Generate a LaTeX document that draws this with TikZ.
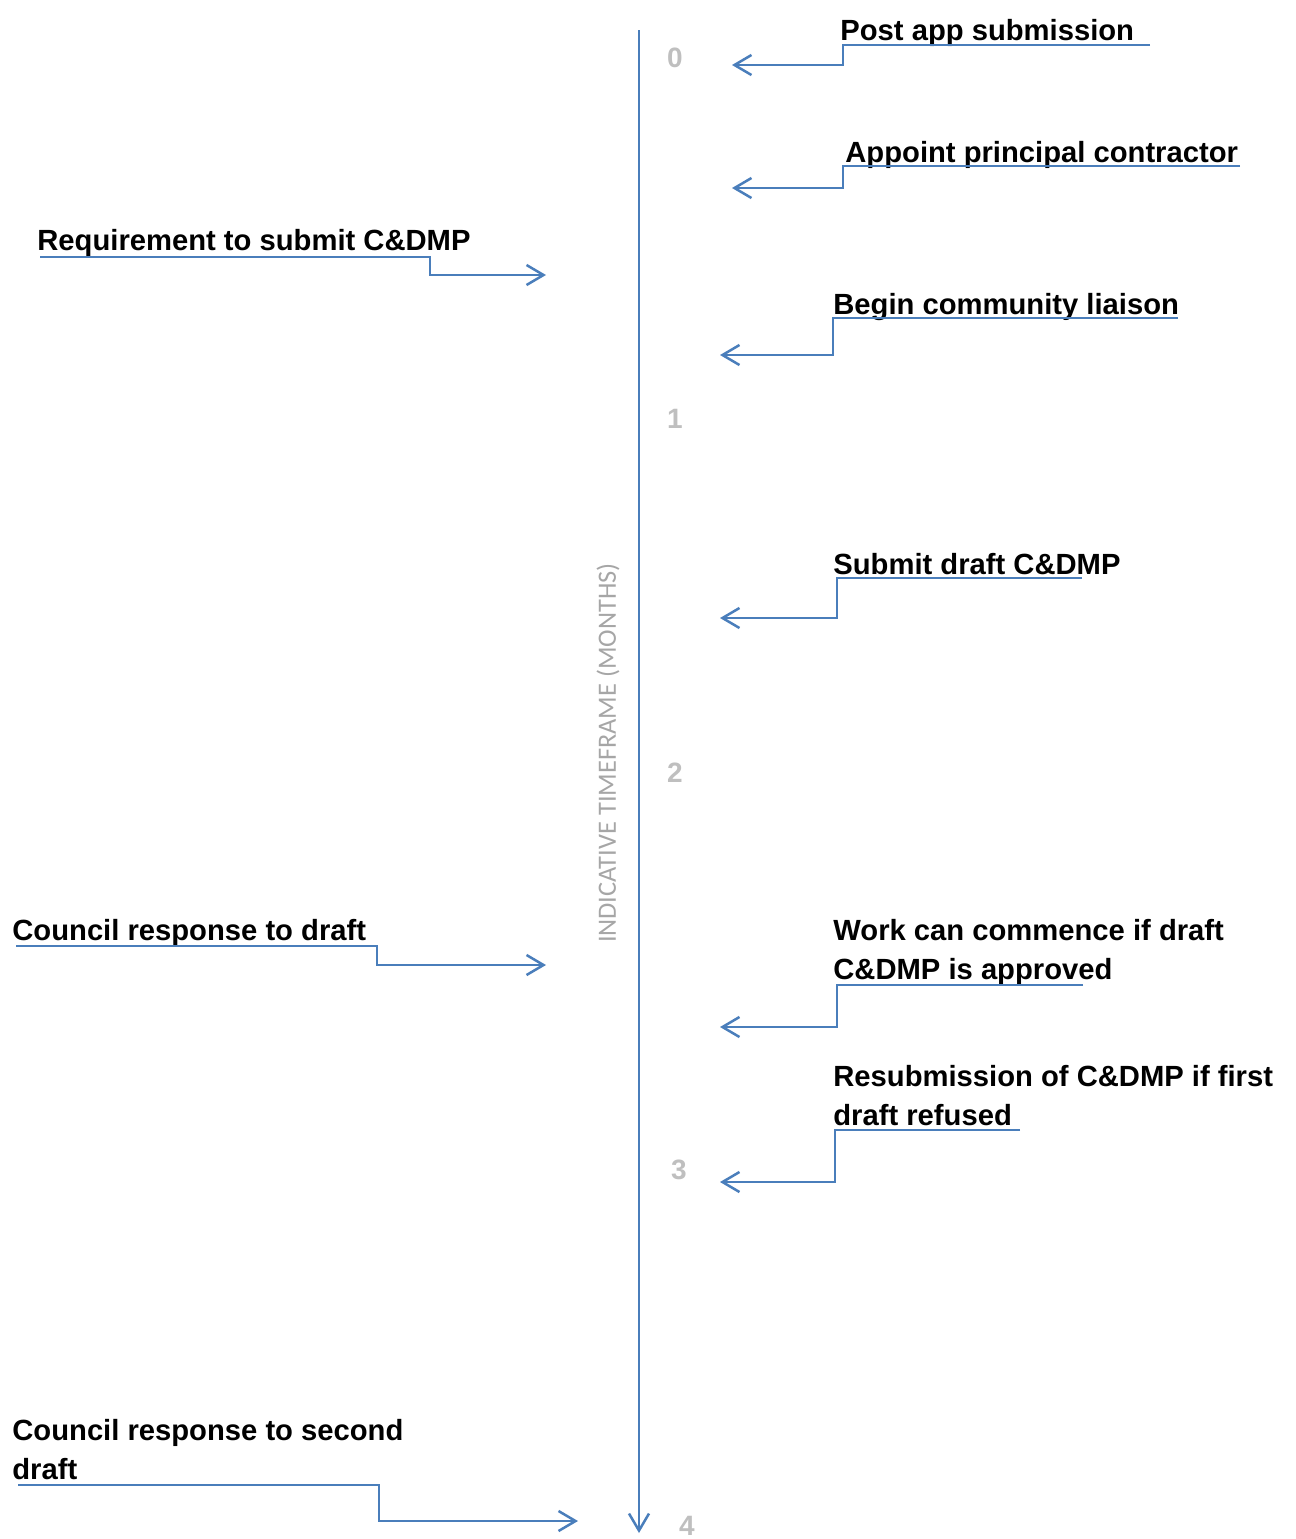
\documentclass[tikz,border=0pt]{standalone}
\usepackage{fontspec}
\setmainfont{Liberation Sans}
\newfontfamily\axisfont{Carlito}
\usetikzlibrary{arrows.meta}

\definecolor{lineblue}{RGB}{74,126,187}
\definecolor{monthgray}{RGB}{191,191,191}
\definecolor{axisgray}{RGB}{166,166,166}

\begin{document}
\begin{tikzpicture}[
    x=0.5pt, y=-0.5pt,
    step label/.style={anchor=base west, inner sep=0pt, align=left,
                       font=\fontsize{14.6}{19.5}\selectfont\bfseries},
    month/.style={inner sep=0pt, text=monthgray,
                  font=\fontsize{14}{16}\selectfont\bfseries},
    link/.style={draw=lineblue, line width=1.25pt,
                 -{Straight Barb[length=8.5pt, width=10pt]}},
    axislabel/.style={rotate=90, inner sep=0pt, text=axisgray,
                      font=\axisfont\fontsize{13.2}{16}\selectfont}
]
\useasboundingbox (0,0) rectangle (1296,1539);

% Eje de tiempo
\coordinate (top) at (639,30);
\coordinate (bottom) at (639,1533);
\draw[link] (top) -- (bottom);
\node[axislabel] (axis) at (608,753) {INDICATIVE TIMEFRAME (MONTHS)};

% Meses
\node[month] (m0) at (675,58) {0};
\node[month] (m1) at (675,419) {1};
\node[month] (m2) at (675,773) {2};
\node[month] (m3) at (679,1170) {3};
\node[month] (m4) at (687,1526) {4};

% Etapas a la derecha (base = ultima linea)
\node[step label] (post) at (840,40) {Post app submission};
\node[step label] (appoint) at (845,162) {Appoint principal contractor};
\node[step label] (liaison) at (833,314) {Begin community liaison};
\node[step label] (draft) at (833,574) {Submit draft C\&DMP};
\node[step label] (work) at (833,979) {Work can commence if draft\\C\&DMP is approved};
\node[step label] (resub) at (833,1125) {Resubmission of C\&DMP if first\\draft refused};

% Etapas a la izquierda
\node[step label] (req) at (37,250) {Requirement to submit C\&DMP};
\node[step label] (resp1) at (12,940) {Council response to draft};
\node[step label] (resp2) at (12,1479) {Council response to second\\draft};

% Puntos de las flechas
\coordinate (post-a) at (1150,45);   \coordinate (post-b) at (843,45);   \coordinate (post-c) at (732,65);
\coordinate (appoint-a) at (1240,166); \coordinate (appoint-b) at (843,166); \coordinate (appoint-c) at (732,188);
\coordinate (liaison-a) at (1178,318); \coordinate (liaison-b) at (833,318); \coordinate (liaison-c) at (720,355);
\coordinate (draft-a) at (1082,578); \coordinate (draft-b) at (837,578); \coordinate (draft-c) at (720,618);
\coordinate (work-a) at (1083,985);  \coordinate (work-b) at (837,985);  \coordinate (work-c) at (720,1027);
\coordinate (resub-a) at (1020,1130); \coordinate (resub-b) at (835,1130); \coordinate (resub-c) at (720,1182);
\coordinate (req-a) at (40,257);     \coordinate (req-b) at (430,257);   \coordinate (req-c) at (546,275);
\coordinate (resp1-a) at (16,946);   \coordinate (resp1-b) at (377,946); \coordinate (resp1-c) at (546,965);
\coordinate (resp2-a) at (18,1485);  \coordinate (resp2-b) at (379,1485); \coordinate (resp2-c) at (578,1521);

% Flechas hacia el eje
\draw[link] (post-a) -- (post-b) |- (post-c);
\draw[link] (appoint-a) -- (appoint-b) |- (appoint-c);
\draw[link] (liaison-a) -- (liaison-b) |- (liaison-c);
\draw[link] (draft-a) -- (draft-b) |- (draft-c);
\draw[link] (work-a) -- (work-b) |- (work-c);
\draw[link] (resub-a) -- (resub-b) |- (resub-c);
\draw[link] (req-a) -- (req-b) |- (req-c);
\draw[link] (resp1-a) -- (resp1-b) |- (resp1-c);
\draw[link] (resp2-a) -- (resp2-b) |- (resp2-c);

\end{tikzpicture}
\end{document}
